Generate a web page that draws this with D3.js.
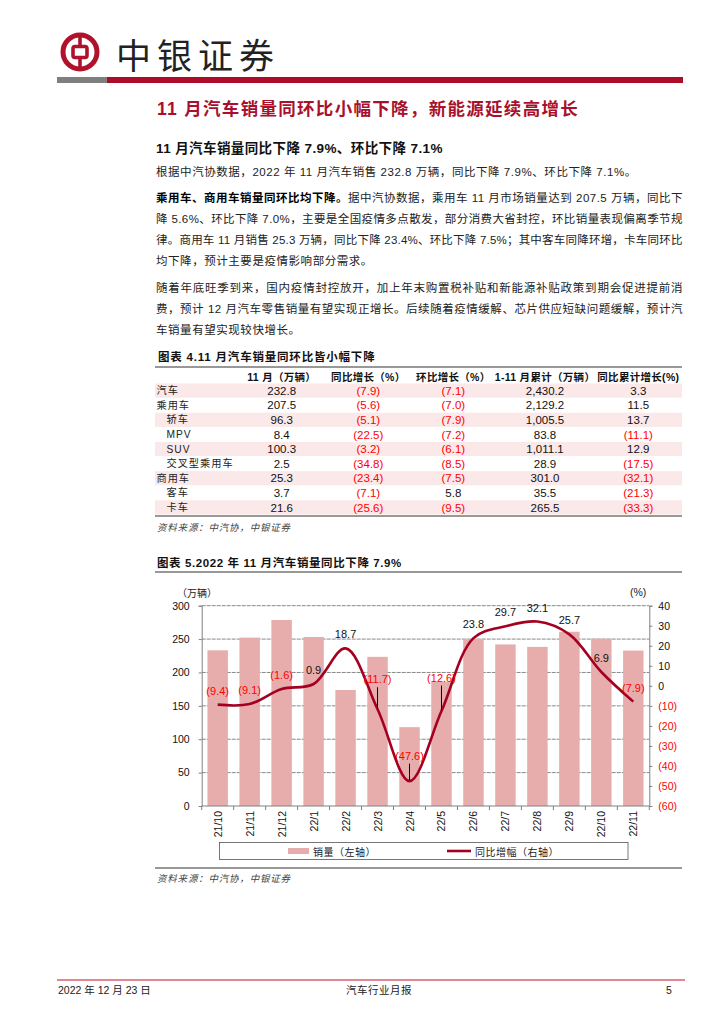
<!DOCTYPE html>
<html><head><meta charset="utf-8">
<script src="https://cdn.jsdelivr.net/npm/d3@7"></script>
<style>
html,body{margin:0;padding:0;background:#fff;}
svg{display:block;}
</style></head>
<body>
<svg id="page" width="724" height="1024"></svg>
<script>
// ---------- data ----------
const months = ["21/10","21/11","21/12","22/1","22/2","22/3","22/4","22/5","22/6","22/7","22/8","22/9","22/10","22/11"];
const sales = [233.2,252.2,278.6,253.1,173.7,223.4,118.1,186.2,250.2,242.0,238.3,261.0,250.5,232.8];
const yoy = [-9.4,-9.1,-1.6,0.9,18.7,-11.7,-47.6,-12.6,23.8,29.7,32.1,25.7,6.9,-7.9];
const leftTicks = [0,50,100,150,200,250,300];
const rightTicks = [-60,-50,-40,-30,-20,-10,0,10,20,30,40];

const tableRows = ["汽车","乘用车","轿车","MPV","SUV","交叉型乘用车","商用车","客车","卡车"];
const rowLevel = [0,0,1,1,1,1,0,1,1];
const tableHeaders = ["11 月（万辆）","同比增长（%）","环比增长（%）","1-11 月累计（万辆）","同比累计增长(%)"];
const novSales = [232.8,207.5,96.3,8.4,100.3,2.5,25.3,3.7,21.6];
const yoyGrowth = [-7.9,-5.6,-5.1,-22.5,-3.2,-34.8,-23.4,-7.1,-25.6];
const momGrowth = [-7.1,-7.0,-7.9,-7.2,-6.1,-8.5,-7.5,5.8,-9.5];
const ytdSales = [2430.2,2129.2,1005.5,83.8,1011.1,28.9,301.0,35.5,265.5];
const ytdGrowth = [3.3,11.5,13.7,-11.1,12.9,-17.5,-32.1,-21.3,-33.3];

// ---------- styling ----------
const RED = "#A8102E";
const CJK = "'Noto Sans CJK SC', sans-serif";
const MIX = "'Liberation Sans Narrow','Liberation Sans', 'Noto Sans CJK SC', sans-serif";
const SANS = "'Liberation Sans', Arial, sans-serif";
const svg = d3.select("#page");

function txt(x, y, s, o = {}) {
  const t = svg.append("text").attr("x", x).attr("y", y)
    .attr("dominant-baseline", "central")
    .attr("font-family", o.family || MIX)
    .attr("font-size", o.size || 11.5)
    .attr("font-weight", o.weight || 400)
    .attr("fill", o.fill || "#1a1a1a")
    .attr("text-anchor", o.anchor || "start");
  if (o.ls) t.attr("letter-spacing", o.ls);
  if (o.italic) t.attr("font-style", "italic");
  if (o.len) t.attr("textLength", o.len).attr("lengthAdjust", "spacing");
  t.text(s);
  return t;
}

// ---------- header ----------
const logo = svg.append("g").attr("transform", "translate(80,52)");
logo.append("circle").attr("r", 17).attr("fill", "none").attr("stroke", "#B0122B").attr("stroke-width", 5);
logo.append("rect").attr("x", -7).attr("y", -5.5).attr("width", 14).attr("height", 11).attr("rx", 2)
  .attr("fill", "none").attr("stroke", "#B0122B").attr("stroke-width", 3.6);
logo.append("line").attr("x1", 0).attr("x2", 0).attr("y1", -16).attr("y2", -5).attr("stroke", "#B0122B").attr("stroke-width", 3.6);
logo.append("line").attr("x1", 0).attr("x2", 0).attr("y1", 5).attr("y2", 16).attr("stroke", "#B0122B").attr("stroke-width", 3.6);
txt(116, 53, "中银证券", {family: CJK, size: 35, ls: 6, fill: "#222", weight: 400});
svg.append("rect").attr("x", 57).attr("y", 77).attr("width", 50).attr("height", 6).attr("fill", "#7f7f7f");
svg.append("rect").attr("x", 107).attr("y", 77).attr("width", 576).attr("height", 6).attr("fill", "#AE0C2A");

txt(157, 109, "11 月汽车销量同环比小幅下降，新能源延续高增长", {size: 17.5, weight: 700, fill: RED, ls: 1.3, family: "'Liberation Sans','Noto Sans CJK SC',sans-serif"});

txt(156, 148, "11 月汽车销量同比下降 7.9%、环比下降 7.1%", {size: 13.5, weight: 700, fill: "#111", ls: 0.4, family: "'Liberation Sans','Noto Sans CJK SC',sans-serif"});

const bodyOpt = {size: 11.5, ls: 0.55, fill: "#222"};
const FULL = 527;
txt(156, 172, "根据中汽协数据，2022 年 11 月汽车销售 232.8 万辆，同比下降 7.9%、环比下降 7.1%。", bodyOpt);
{
  const t = txt(156, 198, "", Object.assign({}, bodyOpt, {len: FULL}));
  t.append("tspan").attr("font-weight", 700).attr("fill", "#000").text("乘用车、商用车销量同环比均下降。");
  t.append("tspan").text("据中汽协数据，乘用车 11 月市场销量达到 207.5 万辆，同比下");
}
txt(156, 219, "降 5.6%、环比下降 7.0%，主要是全国疫情多点散发，部分消费大省封控，环比销量表现偏离季节规", Object.assign({}, bodyOpt, {len: FULL}));
txt(156, 240, "律。商用车 11 月销售 25.3 万辆，同比下降 23.4%、环比下降 7.5%；其中客车同降环增，卡车同环比", Object.assign({}, bodyOpt, {len: FULL}));
txt(156, 261, "均下降，预计主要是疫情影响部分需求。", bodyOpt);
txt(156, 288, "随着年底旺季到来，国内疫情封控放开，加上年末购置税补贴和新能源补贴政策到期会促进提前消", Object.assign({}, bodyOpt, {len: FULL}));
txt(156, 309, "费，预计 12 月汽车零售销量有望实现正增长。后续随着疫情缓解、芯片供应短缺问题缓解，预计汽", Object.assign({}, bodyOpt, {len: FULL}));
txt(156, 330, "车销量有望实现较快增长。", bodyOpt);

// ---------- table ----------
const T = {x0: 155, x1: 682, titleY: 357, lineY: 367, headY: 377, row0: 390.7, rowH: 14.6};
txt(158, T.titleY, "图表 4.11 月汽车销量同环比皆小幅下降", {size: 11.5, weight: 700, fill: "#111", ls: 0.8});
svg.append("line").attr("x1", T.x0).attr("x2", T.x1).attr("y1", T.lineY).attr("y2", T.lineY).attr("stroke", "#333").attr("stroke-width", 1.2);
const colX = [281.7, 368.3, 453.3, 545, 638.3];
tableHeaders.forEach((h, i) => txt(colX[i], T.headY, h, {size: 10.5, weight: 700, anchor: "middle", ls: 0.3, fill: "#111"}));
const rowY = d3.scaleLinear().domain([0, 1]).range([T.row0, T.row0 + T.rowH]);
tableRows.forEach((r, i) => {
  if (i % 2 === 0) svg.append("rect").attr("x", T.x0).attr("y", rowY(i) - 7.2).attr("width", T.x1 - T.x0).attr("height", 14.2).attr("fill", "#FBE8E8");
});
const fmt1 = d3.format(",.1f");
function cell(v) { return v < 0 ? "(" + fmt1(-v) + ")" : fmt1(v); }
const cols = [novSales, yoyGrowth, momGrowth, ytdSales, ytdGrowth];
tableRows.forEach((r, i) => {
  txt(rowLevel[i] ? 166.5 : 156.5, rowY(i), r, {family: "'Liberation Sans','Noto Sans CJK SC',sans-serif", size: 10.2, ls: 1.0, fill: "#222"});
  cols.forEach((c, j) => txt(colX[j], rowY(i), cell(c[i]), {size: 11.5, anchor: "middle", fill: c[i] < 0 ? "#FF0000" : "#111"}));
});
svg.append("line").attr("x1", T.x0).attr("x2", T.x1).attr("y1", 516).attr("y2", 516).attr("stroke", "#333").attr("stroke-width", 1.2);
txt(157, 526.5, "资料来源：中汽协，中银证券", {size: 9.5, italic: true, fill: "#444", ls: 0.8, family: CJK});

// ---------- chart ----------
txt(157, 562.5, "图表 5.2022 年 11 月汽车销量同比下降 7.9%", {size: 11.5, weight: 700, fill: "#111", ls: 0.6});
svg.append("line").attr("x1", 155).attr("x2", 682).attr("y1", 572).attr("y2", 572).attr("stroke", "#333").attr("stroke-width", 1.2);

const P = {l: 201.7, r: 649.3, t: 605.7, b: 806};
const x = d3.scaleBand().domain(months).range([P.l, P.r]).paddingInner(0.36).paddingOuter(0.18);
const yL = d3.scaleLinear().domain([0, 300]).range([P.b, P.t]);
const yR = d3.scaleLinear().domain([-60, 40]).range([P.b, P.t]);
const cx = m => x(m) + x.bandwidth() / 2;

txt(177, 592, "（万辆）", {size: 10, family: CJK, fill: "#222"});
txt(630, 592, "(%)", {size: 10.5, fill: "#222", family: SANS});

// gridlines
svg.append("g").selectAll("line").data(leftTicks.filter(d => d > 0)).join("line")
  .attr("x1", P.l).attr("x2", P.r).attr("y1", d => yL(d)).attr("y2", d => yL(d))
  .attr("stroke", "#7a7a7a").attr("stroke-width", 0.9).attr("stroke-dasharray", "4,1");

// bars
svg.append("g").selectAll("rect").data(months).join("rect")
  .attr("x", d => x(d)).attr("width", x.bandwidth())
  .attr("y", (d, i) => yL(sales[i])).attr("height", (d, i) => yL(0) - yL(sales[i]))
  .attr("fill", "#E7ADAD");

// axes
const axisL = svg.append("g").attr("transform", `translate(${P.l},0)`)
  .call(d3.axisLeft(yL).tickValues(leftTicks).tickSize(3).tickPadding(9).tickFormat(d3.format("d")));
const axisR = svg.append("g").attr("transform", `translate(${P.r},0)`)
  .call(d3.axisRight(yR).tickValues(rightTicks).tickSize(3).tickPadding(6).tickFormat(d => d < 0 ? `(${-d})` : d));
[axisL, axisR].forEach(a => {
  a.select(".domain").attr("stroke", "#808080");
  a.selectAll(".tick line").attr("stroke", "#808080");
  a.selectAll("text").attr("font-family", SANS).attr("font-size", 10.5);
});
axisL.selectAll("text").attr("fill", "#111");
axisR.selectAll("text").attr("fill", d => d < 0 ? "#FF0000" : "#111");

// x axis
const xa = svg.append("g");
xa.append("line").attr("x1", P.l).attr("x2", P.r).attr("y1", P.b).attr("y2", P.b).attr("stroke", "#808080");
xa.selectAll("line.t").data(d3.range(months.length + 1)).join("line").attr("class", "t")
  .attr("x1", i => P.l + i * x.step()).attr("x2", i => P.l + i * x.step())
  .attr("y1", P.b).attr("y2", P.b + 4).attr("stroke", "#808080");
xa.selectAll("text").data(months).join("text")
  .attr("transform", d => `translate(${cx(d) + 4},${P.b + 5}) rotate(-90)`)
  .attr("text-anchor", "end").attr("font-family", SANS).attr("font-size", 10.5).attr("fill", "#111")
  .text(d => d);

// line
const line = d3.line().x((d, i) => cx(months[i])).y(d => yR(d)).curve(d3.curveCatmullRom.alpha(0.5));
svg.append("path").datum(yoy).attr("d", line).attr("fill", "none").attr("stroke", "#A50021").attr("stroke-width", 2.6);

// data labels
const labelLift = {"22/3": 30, "22/4": 25.5, "22/5": 33.5};
const lbl = svg.append("g");
yoy.forEach((v, i) => {
  const m = months[i];
  const lift = labelLift[m] || 14;
  const px = cx(m), py = yR(v);
  if (labelLift[m]) {
    lbl.append("line").attr("x1", px).attr("x2", px).attr("y1", py - lift + 8).attr("y2", py - 1)
      .attr("stroke", "#000").attr("stroke-width", 1);
  }
  lbl.append("text").attr("x", px).attr("y", py - lift).attr("dominant-baseline", "central")
    .attr("text-anchor", "middle").attr("font-family", SANS).attr("font-size", 11)
    .attr("fill", v < 0 ? "#FF0000" : "#111").text(v < 0 ? `(${-v})` : v.toFixed(1));
});

// legend
svg.append("rect").attr("x", 219.5).attr("y", 842.5).attr("width", 408.5).attr("height", 17).attr("fill", "#fff").attr("stroke", "#555").attr("stroke-width", 0.8);
svg.append("rect").attr("x", 288).attr("y", 848).attr("width", 21).attr("height", 6).attr("fill", "#E7ADAD");
txt(313, 851, "销量（左轴）", {size: 10, family: CJK, fill: "#222", ls: 0.5});
svg.append("line").attr("x1", 447).attr("x2", 471).attr("y1", 851).attr("y2", 851).attr("stroke", "#A50021").attr("stroke-width", 2.6);
txt(475, 851, "同比增幅（右轴）", {size: 10, family: CJK, fill: "#222", ls: 0.5});

svg.append("line").attr("x1", 155).attr("x2", 682).attr("y1", 868).attr("y2", 868).attr("stroke", "#333").attr("stroke-width", 1.2);
txt(157, 878, "资料来源：中汽协，中银证券", {size: 9.5, italic: true, fill: "#444", ls: 0.8, family: CJK});

// ---------- footer ----------
svg.append("line").attr("x1", 57).attr("x2", 685).attr("y1", 980).attr("y2", 980).attr("stroke", "#C8102E").attr("stroke-width", 1.2);
txt(58, 990, "2022 年 12 月 23 日", {size: 10.5, fill: "#222"});
txt(379, 990, "汽车行业月报", {size: 10.5, fill: "#222", anchor: "middle", ls: 0.5});
txt(669, 990, "5", {size: 10.5, fill: "#222", anchor: "middle", family: SANS});
</script>
</body></html>
